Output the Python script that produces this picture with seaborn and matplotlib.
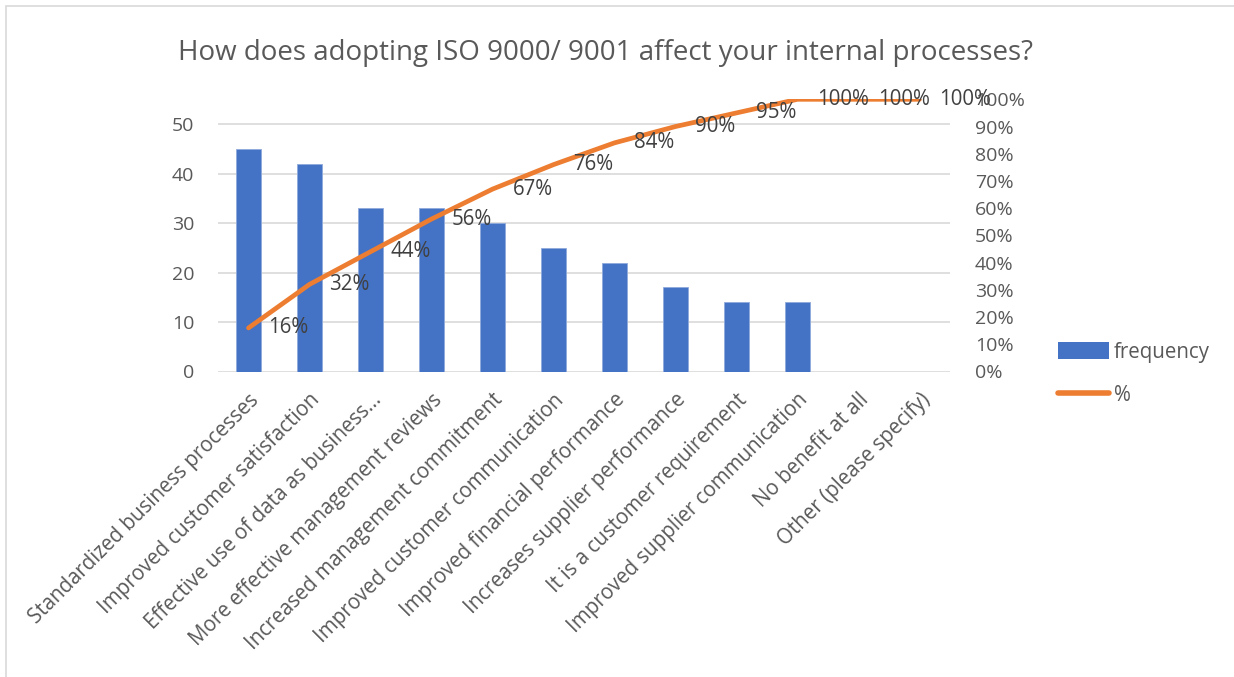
import numpy as np
import pandas as pd
import matplotlib
matplotlib.use("Agg")
import matplotlib.pyplot as plt
import seaborn as sns
from matplotlib.patches import Patch, Rectangle
from matplotlib.lines import Line2D

categories = [
    "Standardized business processes",
    "Improved customer satisfaction",
    "Effective use of data as business...",
    "More effective management reviews",
    "Increased management commitment",
    "Improved customer communication",
    "Improved financial performance",
    "Increases supplier performance",
    "It is a customer requirement",
    "Improved supplier communication",
    "No benefit at all",
    "Other (please specify)",
]
frequency = [45, 42, 33, 33, 30, 25, 22, 17, 14, 14, 0, 0]
cum_pct = [0.16, 0.32, 0.44, 0.56, 0.67, 0.76, 0.84, 0.90, 0.95, 1.00, 1.00, 1.00]
left_ticks = [0, 10, 20, 30, 40, 50]
right_ticks = [0.0, 0.1, 0.2, 0.3, 0.4, 0.5, 0.6, 0.7, 0.8, 0.9, 1.0]

BLUE = "#4472C4"
ORANGE = "#ED7D31"
TXT = "#595959"
GRID = "#D9D9D9"

sns.set_theme(style="white")
plt.rcParams["font.family"] = ["Open Sans", "DejaVu Sans"]

W, H = 1234, 677
fig = plt.figure(figsize=(W / 100, H / 100), dpi=100)

# outer frame
fig.patches.append(Rectangle((6 / W, -0.05), 1.2, (H - 6) / H + 0.05, transform=fig.transFigure,
                             fill=False, edgecolor=GRID, linewidth=1.2))

L, R, T, B = 218, 950, 99.3, 371.5
ax = fig.add_axes([L / W, 1 - B / H, (R - L) / W, (B - T) / H])

df = pd.DataFrame({"category": categories, "frequency": frequency, "pct": cum_pct})
sns.barplot(data=df, x="category", y="frequency", color=BLUE, width=0.4, ax=ax,
            saturation=1, edgecolor="#8FAADC", linewidth=0.6, zorder=2)
ax.set_ylim(0, 55)
ax.set_xlim(-0.5, len(categories) - 0.5)
ax.set_yticks(left_ticks)
ax.yaxis.grid(True, color=GRID, linewidth=1.2, zorder=0)
ax.set_axisbelow(True)
for s in ax.spines.values():
    s.set_visible(False)
ax.set_xlabel("")
ax.set_ylabel("")
ax.tick_params(axis="y", length=0, pad=17, labelsize=14, labelcolor=TXT)
ax.tick_params(axis="x", length=0, pad=13, labelsize=14.8, labelcolor=TXT)
ax.set_xticks(range(len(categories)))
ax.set_xticklabels(categories, rotation=45, ha="right", rotation_mode="anchor")

ax2 = ax.twinx()
sns.lineplot(x=np.arange(len(categories)), y=cum_pct, ax=ax2, color=ORANGE, linewidth=3.4,
             solid_capstyle="round", zorder=3)
ax2.set_ylim(0, 1.0)
ax2.set_yticks(right_ticks)
ax2.set_yticklabels([f"{int(round(t * 100))}%" for t in right_ticks])
ax2.tick_params(axis="y", length=0, pad=18, labelsize=14, labelcolor=TXT)
for s in ax2.spines.values():
    s.set_visible(False)
ax2.set_ylabel("")
ax2.grid(False)

for i, p in enumerate(cum_pct):
    ax2.annotate(f"{int(round(p * 100))}%", (i, p), xytext=(20, 0), textcoords="offset pixels",
                 ha="left", va="center", fontsize=14.8, color="#404040", zorder=4)

fig.text(605 / W, 1 - 53 / H, "How does adopting ISO 9000/ 9001 affect your internal processes?",
         ha="center", va="center", fontsize=20, color=TXT)

handles = [Patch(facecolor=BLUE, edgecolor="none"),
           Line2D([0], [0], color=ORANGE, linewidth=4, solid_capstyle="round")]
fig.legend(handles, ["frequency", "%"], loc="center left",
           bbox_to_anchor=(1050 / W, 1 - 374 / H), frameon=False, fontsize=14.8,
           labelcolor=TXT, handlelength=2.45, handleheight=0.9, handletextpad=0.25,
           labelspacing=1.1, borderaxespad=0)

fig.savefig("out.png", dpi=100)
